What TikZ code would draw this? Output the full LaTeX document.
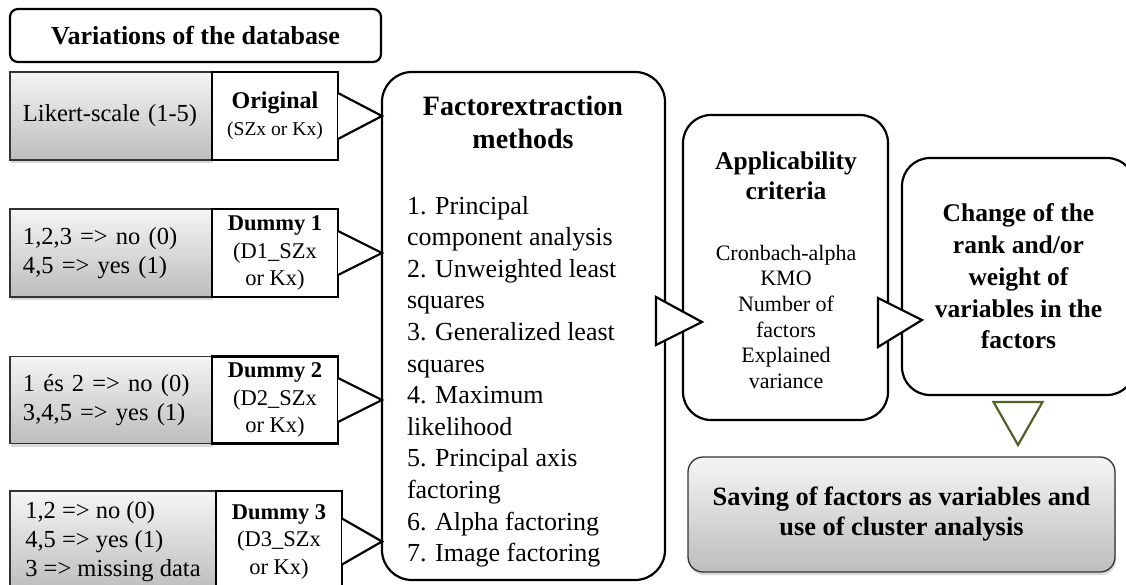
\documentclass[tikz,border=0pt]{standalone}
\usepackage{fontspec}
\setmainfont{Liberation Serif}
\usetikzlibrary{positioning}
\usetikzlibrary{calc}
\usetikzlibrary{shadows}
\definecolor{triGreen}{HTML}{4F6228}

\begin{document}
\begin{tikzpicture}[x=1pt, y=-1pt,
	every node/.style={inner sep=0pt, outer sep=0pt},
	roundbox/.style={draw, line width=2.2pt, rounded corners=#1, fill=white},
	graybox/.style={draw=black!80, line width=1.3pt, top color=black!4, bottom color=black!26,
		drop shadow={shadow xshift=1pt, shadow yshift=-3pt, opacity=0.3}},
	codebox/.style={draw, line width=2.2pt, fill=white, align=center},
	tri/.style={draw, line width=2.2pt, fill=white, line join=miter},
	graytext/.style={font=\fontsize{24.5}{29}\selectfont},
	codetext/.style={font=\fontsize{22.5}{27.5}\selectfont}]
	  \useasboundingbox (0,0) rectangle (1126,584);
	  \clip (0,0) rectangle (1126,584);
	  % left column
	  \node[roundbox=8pt, minimum width=371pt, minimum height=53pt,
		font=\fontsize{26}{30}\bfseries] (vartitle) at (195.5,35.5) {Variations\ of the database};
	  \node[graybox, graytext, minimum width=202pt, minimum height=88pt, text width=176pt,
		align=left, inner xsep=13pt] (likert) at (111,116) {Likert-scale (1-5)};
	  \node[codebox, minimum width=126pt, minimum height=88pt, font=\fontsize{19.6}{27}\selectfont]
		(orig) at (275,116) {\textbf{\fontsize{24}{27}\selectfont Original}\\(SZx or Kx)};
	  \node[graybox, graytext, minimum width=202pt, minimum height=88pt, text width=176pt,
		align=left, inner xsep=13pt] (codeA) at (111,253) {1,2,3 => no (0)\\4,5 => yes (1)};
	  \node[codebox, codetext, minimum width=126pt, minimum height=88pt]
		(dummyA) at (275,253) {\textbf{Dummy 1}\\(D1\_SZx\\or Kx)};
	  \node[graybox, graytext, minimum width=202pt, minimum height=87pt, text width=176pt,
		align=left, inner xsep=13pt] (codeB) at (111,400) {1 és 2 => no (0)\\3,4,5 => yes (1)};
	  \node[codebox, codetext, minimum width=126pt, minimum height=87pt]
		(dummyB) at (275,400) {\textbf{Dummy 2}\\(D2\_SZx\\or Kx)};
	  \node[graybox, graytext, minimum width=206pt, minimum height=101pt,
		align=left] (codeC) at (113,541.5) {1,2 => no (0)\\4,5 => yes (1)\\3 => missing data};
	  \node[codebox, codetext, minimum width=126pt, minimum height=101pt]
		(dummyC) at (279,541.5) {\textbf{Dummy 3}\\(D3\_SZx\\or Kx)};
	  % factor extraction
	  \node[roundbox=30pt, minimum width=283pt, minimum height=508pt] (extract) at (523.5,326) {};
	  \node[anchor=north, align=center, font=\fontsize{28}{33}\bfseries] (exttitle) at (523,96)
		{Factorextraction\\methods};
	  \node[anchor=north west, align=left, font=\fontsize{26}{31.6}\selectfont] (extlist) at (407,196)
		{1. Principal\\component analysis\\2. Unweighted least\\squares\\3. Generalized least\\squares\\
		 4. Maximum\\likelihood\\5. Principal axis\\factoring\\6. Alpha factoring\\7. Image factoring};
	  % applicability
	  \node[roundbox=28pt, minimum width=205pt, minimum height=305pt] (appl) at (785.5,267.5) {};
	  \node[anchor=north, align=center, font=\fontsize{25.5}{30}\bfseries] (appltitle) at (786,152)
		{Applicability\\criteria};
	  \node[anchor=north, align=center, font=\fontsize{22}{25.6}\selectfont] (appllist) at (786,245)
		{Cronbach-alpha\\KMO\\Number of\\factors\\Explained\\variance};
	  % change of rank
	  \node[roundbox=28pt, minimum width=233pt, minimum height=237pt, align=center,
		font=\fontsize{25.5}{31.7}\bfseries] (change) at (1018.5,276.5)
		{Change of the\\rank and/or\\weight of\\variables in the\\factors};
	  % saving
	  \node[graybox, rounded corners=15pt, minimum width=427pt, minimum height=115pt, align=center,
		font=\fontsize{26.4}{30}\bfseries] (saving) at (901.5,514.5)
		{Saving of factors as variables and\\use of cluster analysis};
	  % connectors
	  \foreach \src/\dy in {orig/23, dummyA/22, dummyB/22, dummyC/23}
		\draw[tri] ($(\src.east)+(0,-\dy)$) -- (\src.east -| extract.west) -- ($(\src.east)+(0,\dy)$);
	  \draw[tri] ($(extract.east)+(-9,-29)$) -- ($(extract.east)+(37,-4)$) -- ($(extract.east)+(-9,19)$) -- cycle;
	  \draw[tri] ($(appl.east |- extract.east)+(-10,-28)$) -- ($(appl.east |- extract.east)+(34,-6)$)
		-- ($(appl.east |- extract.east)+(-10,21)$) -- cycle;
	  \draw[triGreen, line width=2.2pt, line join=miter] (change.south) ++(-25,7) -- ++(49,0) -- ++(-24.5,43) -- cycle;
\end{tikzpicture}
\end{document}
